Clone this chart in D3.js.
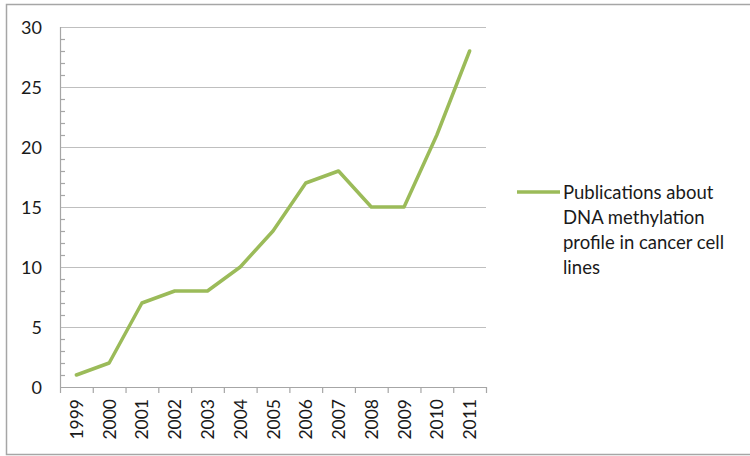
<!DOCTYPE html>
<html>
<head>
<meta charset="utf-8">
<script src="https://cdn.jsdelivr.net/npm/d3@7"></script>
<style>
  html, body { margin: 0; padding: 0; background: #fff; }
  svg { display: block; }
  text { font-family: Lato, "Open Sans", sans-serif; fill: #1a1a1a; }
</style>
</head>
<body>
<svg id="chart" width="750" height="456"></svg>
<script>
// Publications per year
const years = ["1999","2000","2001","2002","2003","2004","2005","2006","2007","2008","2009","2010","2011"];
const publications = [1, 2, 7, 8, 8, 10, 13, 17, 18, 15, 15, 21, 28];
const yTicks = [0, 5, 10, 15, 20, 25, 30];
const seriesName = ["Publications about", "DNA methylation", "profile in cancer cell", "lines"];

const svg = d3.select("#chart");
const W = 750, H = 456;
const plot = { left: 60, right: 486, top: 27, bottom: 387 };

// outer frame (right edge falls outside the view)
svg.append("path")
  .attr("d", `M${W + 2},4.5 H6.5 V454.5 H${W + 2}`)
  .attr("fill", "none")
  .attr("stroke", "#a6a6a6")
  .attr("stroke-width", 1.5);

const x = d3.scaleBand().domain(years).range([plot.left, plot.right]).padding(0);
const y = d3.scaleLinear().domain([0, 30]).range([plot.bottom, plot.top]);

// horizontal gridlines
svg.append("g")
  .selectAll("line")
  .data(yTicks.filter(d => d > 0))
  .join("line")
  .attr("x1", plot.left).attr("x2", plot.right)
  .attr("y1", d => Math.round(y(d)) + 0.5).attr("y2", d => Math.round(y(d)) + 0.5)
  .attr("stroke", "#bfbfbf").attr("stroke-width", 1.2);

// y axis line with minor ticks on the inside
const yAxisG = svg.append("g");
yAxisG.append("line")
  .attr("x1", plot.left + 0.5).attr("x2", plot.left + 0.5)
  .attr("y1", plot.top).attr("y2", plot.bottom)
  .attr("stroke", "#a6a6a6").attr("stroke-width", 1.2);
yAxisG.selectAll("line.minor")
  .data(d3.range(0, 31).filter(v => v % 5 !== 0))
  .join("line").attr("class", "minor")
  .attr("x1", plot.left).attr("x2", plot.left + 5)
  .attr("y1", d => Math.round(y(d)) + 0.5).attr("y2", d => Math.round(y(d)) + 0.5)
  .attr("stroke", "#a6a6a6").attr("stroke-width", 1.2);

// y labels via d3 axis
const yAxis = d3.axisLeft(y).tickValues(yTicks).tickSize(0).tickPadding(0);
const yLab = svg.append("g").attr("transform", `translate(42,0)`).call(yAxis);
yLab.select(".domain").remove();
yLab.selectAll("text").style("font-size", "18px").attr("dy", "0.36em")
  .style("font-family", "Lato, sans-serif").attr("fill", "#1a1a1a");

// x axis: baseline and tick marks between categories
const xAxisG = svg.append("g");
xAxisG.append("line")
  .attr("x1", plot.left).attr("x2", plot.right)
  .attr("y1", plot.bottom + 0.5).attr("y2", plot.bottom + 0.5)
  .attr("stroke", "#a6a6a6").attr("stroke-width", 1.2);
const bounds = years.map(d => x(d)).concat([x(years[years.length - 1]) + x.bandwidth()]);
xAxisG.selectAll("line.tick")
  .data(bounds)
  .join("line").attr("class", "tick")
  .attr("x1", d => d + 0.5).attr("x2", d => d + 0.5)
  .attr("y1", plot.bottom).attr("y2", plot.bottom + 6)
  .attr("stroke", "#a6a6a6").attr("stroke-width", 1.2);

// rotated year labels
xAxisG.selectAll("text")
  .data(years)
  .join("text")
  .attr("transform", d => `translate(${x(d) + x.bandwidth() / 2 + 6.5},399) rotate(-90)`)
  .attr("text-anchor", "end")
  .style("font-size", "17.5px")
  .text(d => d);

// series line
const line = d3.line()
  .x((d, i) => x(years[i]) + x.bandwidth() / 2)
  .y(d => y(d));
svg.append("path")
  .datum(publications)
  .attr("d", line)
  .attr("fill", "none")
  .attr("stroke", "#9bbb59")
  .attr("stroke-width", 3.5)
  .attr("stroke-linejoin", "round")
  .attr("stroke-linecap", "round");

// legend
const lg = svg.append("g");
lg.append("line")
  .attr("x1", 517).attr("x2", 560).attr("y1", 192).attr("y2", 192)
  .attr("stroke", "#9bbb59").attr("stroke-width", 3.5);
lg.selectAll("text")
  .data(seriesName)
  .join("text")
  .attr("x", 563)
  .attr("y", (d, i) => 192 + i * 25)
  .attr("dy", "0.36em")
  .style("font-size", "18.5px")
  .text(d => d);
</script>
</body>
</html>
